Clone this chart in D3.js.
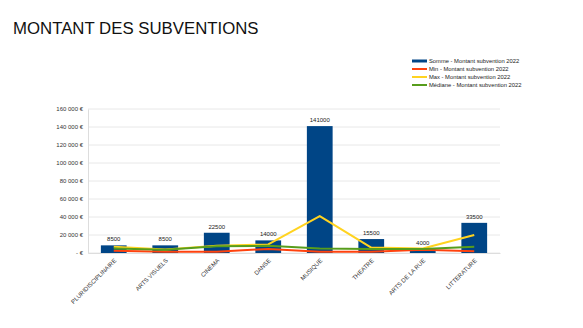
<!DOCTYPE html>
<html><head><meta charset="utf-8">
<script src="https://cdn.jsdelivr.net/npm/d3@7"></script>
<style>body{margin:0;background:#fff}svg{display:block}</style>
</head><body>
<script>
const categories = ["PLURIDISCIPLINAIRE","ARTS VISUELS","CINEMA","DANSE","MUSIQUE","THEATRE","ARTS DE LA RUE","LITTERATURE"];
const somme = [8500, 8500, 22500, 14000, 141000, 15500, 4000, 33500];
const minV = [2500, 1500, 1500, 4500, 1500, 1500, 3500, 2000];
const maxV = [7000, 4000, 8000, 9500, 41000, 6000, 5000, 20000];
const mediane = [5000, 3500, 7500, 8000, 5000, 4500, 4500, 7000];
const yTicks = [0,20000,40000,60000,80000,100000,120000,140000,160000];
const seriesNames = ["Somme - Montant subvention 2022","Min - Montant subvention 2022","Max - Montant subvention 2022","Médiane - Montant subvention 2022"];
const colors = ["#004586","#ff420e","#ffd320","#579d1c"];

(function(){
const W=583,H=328;
const svg=d3.select("body").append("svg").attr("width",W).attr("height",H);
const font="Liberation Sans, Arial, sans-serif";

svg.append("text").attr("x",13).attr("y",34).attr("font-family",font).attr("font-size",16.8)
  .attr("fill","#111").text("MONTANT DES SUBVENTIONS");

const pl=88,pr=500,pt=109,pb=253;
const x=d3.scaleBand().domain(categories).range([pl,pr]).paddingInner(0.5).paddingOuter(0.25);
const xc=d=>x(d)+x.bandwidth()/2;
const y=d3.scaleLinear().domain([0,160000]).range([pb,pt]);

const fmt=v=> v===0 ? "- €" : d3.format(",")(v).replace(/,/g," ")+" €";

svg.append("g").selectAll("line").data(yTicks).join("line")
  .attr("x1",pl).attr("x2",pr).attr("y1",d=>y(d)).attr("y2",d=>y(d))
  .attr("stroke","#e8e8e8").attr("stroke-width",1);

const ya=svg.append("g").attr("transform",`translate(${pl},0)`)
  .call(d3.axisLeft(y).tickValues(yTicks).tickFormat(fmt).tickSize(0).tickPadding(5));
ya.select(".domain").attr("stroke","#dddddd");
ya.selectAll("text").attr("font-family",font).attr("font-size",6).attr("fill","#333");

svg.append("g").selectAll("rect").data(somme).join("rect")
  .attr("x",(d,i)=>x(categories[i])).attr("width",x.bandwidth())
  .attr("y",d=>y(d)).attr("height",d=>y(0)-y(d)).attr("fill",colors[0]);

const xa=svg.append("g").attr("transform",`translate(0,${pb})`)
  .call(d3.axisBottom(x).tickSize(0).tickPadding(0));
xa.select(".domain").attr("stroke","#dddddd");
xa.selectAll("text").attr("font-family",font).attr("font-size",6).attr("fill","#333")
  .attr("text-anchor","end").attr("dy",0)
  .attr("transform","translate(3,8) rotate(-45)");

svg.append("g").selectAll("text").data(somme).join("text")
  .attr("x",(d,i)=>xc(categories[i])).attr("y",d=>y(d)-4)
  .attr("text-anchor","middle").attr("font-family",font).attr("font-size",6).attr("fill","#222")
  .text(d=>d);

const line=d3.line().x((d,i)=>xc(categories[i])).y(d=>y(d));
[[minV,1],[maxV,2],[mediane,3]].forEach(([arr,ci])=>{
  svg.append("path").datum(arr).attr("d",line).attr("fill","none")
    .attr("stroke",colors[ci]).attr("stroke-width",2).attr("stroke-linejoin","round");
});

const lg=svg.append("g");
seriesNames.forEach((n,i)=>{
  const yy=61+i*8;
  lg.append("line").attr("x1",412).attr("x2",427).attr("y1",yy).attr("y2",yy)
    .attr("stroke",colors[i]).attr("stroke-width",i===0?3:2);
  lg.append("text").attr("x",429).attr("y",yy+2.1).attr("font-family",font).attr("font-size",5.8)
    .attr("fill","#222").text(n);
});
})();
</script>
</body></html>
